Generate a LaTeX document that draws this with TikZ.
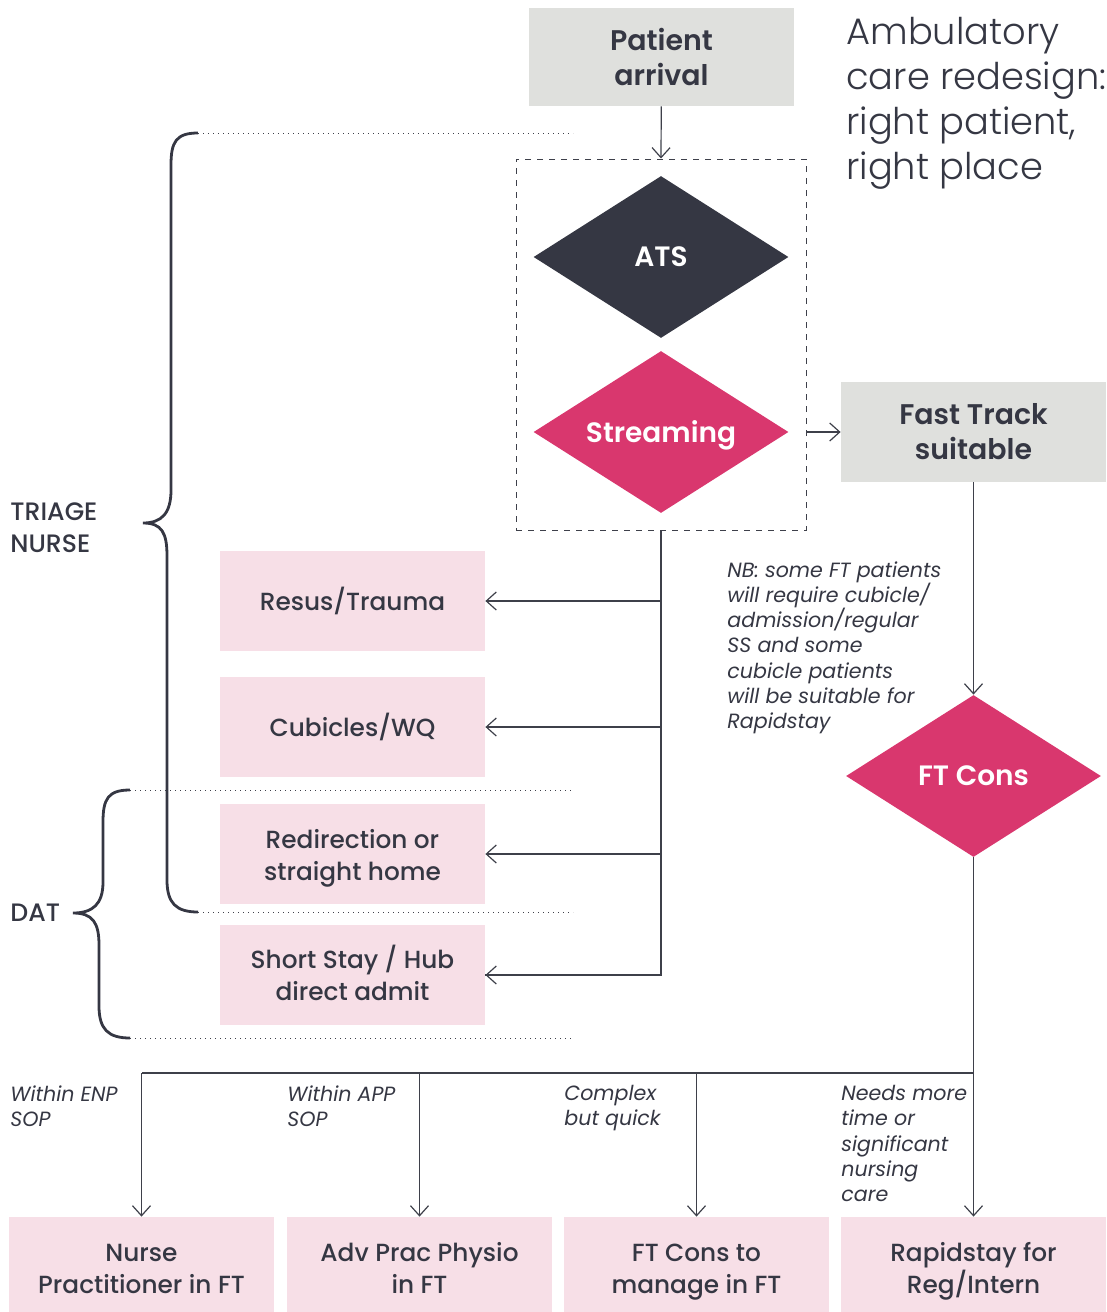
\documentclass[tikz,border=0pt]{standalone}
\usepackage{fontspec}
\setmainfont{Poppins}[BoldFont={Poppins SemiBold}]
\newfontfamily\poplight{Poppins Light}
\newfontfamily\popmed{Poppins Medium}
\usetikzlibrary{shapes.geometric, arrows.meta, positioning}

\definecolor{inkdark}{HTML}{353743}
\definecolor{greybox}{HTML}{DFE0DD}
\definecolor{pinkbox}{HTML}{F7DFE7}
\definecolor{streampink}{HTML}{D9376E}
\definecolor{lineink}{HTML}{3E404A}

% two-line tile text with fixed top and bottom struts, so all tiles line up
\newcommand{\twolines}[3]{\rule{0pt}{#1}#2\\#3\rule[-4pt]{0pt}{4pt}}

\tikzset{
  greytile/.style={fill=greybox, text=inkdark, minimum width=132.5pt, minimum height=49pt,
    inner sep=0pt, align=center, font=\fontsize{14.2}{17.5}\selectfont\bfseries},
  pinktile/.style={fill=pinkbox, text=inkdark, minimum width=132.5pt, minimum height=50pt,
    inner sep=0pt, align=center, font=\popmed\fontsize{12.4}{16}\selectfont},
  decision/.style={diamond, shape aspect=1.6, minimum width=127.5pt, minimum height=81pt,
    inner sep=0pt, text depth=0pt, text=white, font=\fontsize{14}{16}\selectfont\bfseries},
  note/.style={text=inkdark, inner sep=0pt, align=left, anchor=north west,
    font=\fontsize{10.3}{12.65}\selectfont\itshape},
  sidelabel/.style={text=inkdark, inner sep=0pt, align=left, anchor=north west,
    font=\popmed\fontsize{12.6}{16}\selectfont},
  arr/.style={draw=lineink, line width=0.6pt, -{Straight Barb[length=5pt,width=9pt]}},
  link/.style={draw=lineink, line width=0.6pt},
  guide/.style={draw=lineink, line width=0.5pt, dotted},
  brace/.style={draw=inkdark, line width=1.4pt}
}

\begin{document}
\begin{tikzpicture}[x=0.5pt, y=-0.5pt]
\useasboundingbox (0,0) rectangle (1107,1312);

% title
\node[text=inkdark, inner sep=0pt, align=left, anchor=north west,
  font=\poplight\fontsize{18.4}{22.5}\selectfont] (title) at (846,17)
  {Ambulatory\\care redesign:\\right patient,\\right place};

% top of the flow
\node[greytile] (arrival) at (661.5,57) {Patient\\arrival};
\node[draw=lineink, dashed, line width=0.5pt, minimum width=145pt, minimum height=185.5pt,
  inner sep=0pt] (stream box) at (661,344.5) {};
\node[decision, fill=inkdark] (ats) at (661,257) {ATS};
\node[decision, fill=streampink] (streaming) at (661,432) {Streaming};
\node[greytile, minimum height=50pt] (fast track) at (973.5,432) {Fast Track\\suitable};
\node[decision, fill=streampink] (ft cons) at (973.5,776) {FT Cons};

% left column
\node[pinktile] (resus) at (352.5,601) {Resus/Trauma};
\node[pinktile] (cubicles) at (352.5,727) {Cubicles/WQ};
\node[pinktile] (redirect) at (352.5,854) {\twolines{14pt}{Redirection or}{straight home}};
\node[pinktile] (short stay) at (352.5,975) {\twolines{13pt}{Short Stay / Hub}{direct admit}};

% bottom row
\node[pinktile, minimum height=47.5pt] (nurse) at (141.5,1264.5) {\twolines{17pt}{Nurse}{Practitioner in FT}};
\node[pinktile, minimum height=47.5pt] (physio) at (419.5,1264.5) {\twolines{17pt}{Adv Prac Physio}{in FT}};
\node[pinktile, minimum height=47.5pt] (manage) at (696.5,1264.5) {\twolines{17pt}{FT Cons to}{manage in FT}};
\node[pinktile, minimum height=47.5pt] (rapid) at (973.5,1264.5) {\twolines{17pt}{Rapidstay for}{Reg/Intern}};

% notes
\node[note] (nb) at (727,561) {NB: some FT patients\\will require cubicle/\\admission/regular\\SS and some\\cubicle patients\\will be suitable for\\Rapidstay};
\node[note] (enp) at (10,1085) {Within ENP\\SOP};
\node[note] (app) at (287,1085) {Within APP\\SOP};
\node[note] (complex) at (564,1085) {Complex\\but quick};
\node[note] (needs) at (841,1085) {Needs more\\time or\\significant\\nursing\\care};

\node[sidelabel] (triage) at (10,502) {TRIAGE\\NURSE};
\node[sidelabel] (dat) at (10,904) {DAT};

% connectors
\draw[arr] (arrival) -- (stream box.north);
\draw[arr] (stream box.east |- streaming) -- (fast track.west);
\draw[arr] (fast track.south) -- (ft cons.north);
\draw[link] (stream box.south) |- (short stay.east);
\draw[arr] (stream box.south |- short stay.east) -- (short stay.east);
\draw[arr] (stream box.south |- resus.east) -- (resus.east);
\draw[arr] (stream box.south |- cubicles.east) -- (cubicles.east);
\draw[arr] (stream box.south |- redirect.east) -- (redirect.east);

\coordinate (bus) at (973.5,1073);
\draw[link] (ft cons.south) -- (bus) -- (nurse.north |- bus);
\foreach \dest in {nurse, physio, manage, rapid}
  \draw[arr] (\dest.north |- bus) -- (\dest.north);

% dotted guides
\draw[guide] (198,133) -- (573,133);
\draw[guide] (130,790) -- (573,790);
\draw[guide] (198,912) -- (573,912);
\draw[guide] (130,1038) -- (573,1038);

% braces
\draw[brace] (198,133) .. controls (176,133) and (171,142) .. (171,165) -- (171,490)
  .. controls (171,513) and (162,523) .. (143,523)
  .. controls (162,523) and (167,533) .. (167,556) -- (167,880)
  .. controls (167,903) and (176,912) .. (198,912);
\draw[brace] (130,790) .. controls (108,790) and (103,799) .. (103,822) -- (103,882)
  .. controls (103,904) and (93,913) .. (73,913)
  .. controls (93,913) and (99,923) .. (99,945) -- (99,1006)
  .. controls (99,1029) and (108,1038) .. (130,1038);
\end{tikzpicture}
\end{document}
